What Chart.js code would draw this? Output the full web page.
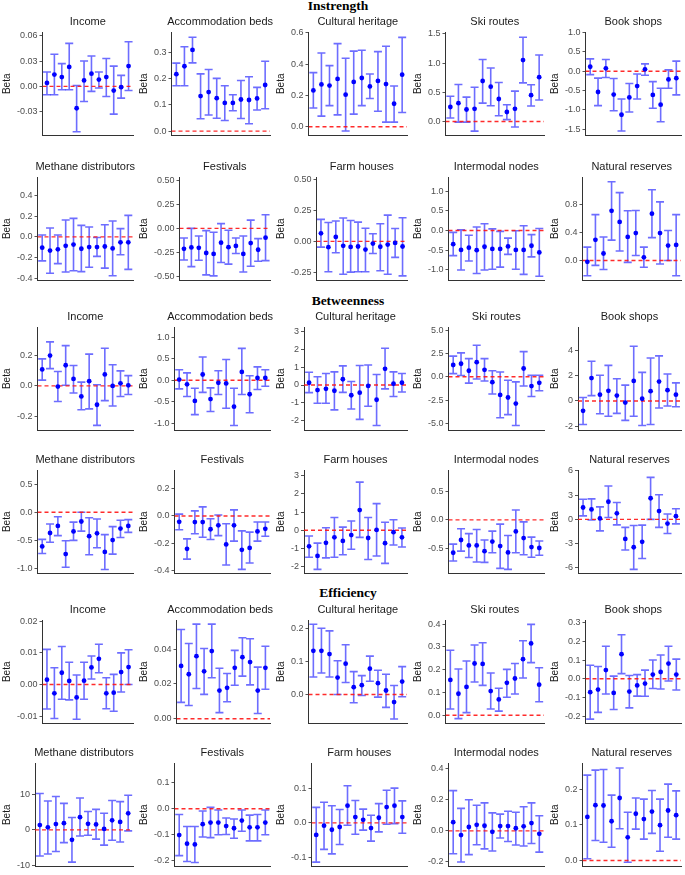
<!DOCTYPE html>
<html>
<head>
<meta charset="utf-8">
<script src="https://cdn.jsdelivr.net/npm/chart.js@4.4.0/dist/chart.umd.min.js"></script>
<style>
body { margin: 0; background: #fff; width: 685px; height: 875px; position: relative; overflow: hidden; }
.sec { position: absolute; font: bold 13.5px "Liberation Serif", "Times New Roman", serif; color: #000; transform: translate(-50%, -50%); white-space: nowrap; }
canvas { position: absolute; }
</style>
</head>
<body>
<script>
// ---- data ----
const sectionNames = ['Instrength', 'Betweenness', 'Efficiency'];
const panelTitles = ['Income', 'Accommodation beds', 'Cultural heritage', 'Ski routes', 'Book shops',
    'Methane distributors', 'Festivals', 'Farm houses', 'Intermodal nodes', 'Natural reserves'];

// Instrength
const instrengthBeta = [
    [0.004, 0.014, 0.011, 0.023, -0.026, 0.007, 0.015, 0.008, 0.011, -0.005, -0.001, 0.024],
    [0.216, 0.246, 0.308, 0.133, 0.148, 0.125, 0.107, 0.107, 0.120, 0.118, 0.124, 0.175],
    [0.232, 0.270, 0.263, 0.305, 0.205, 0.286, 0.311, 0.257, 0.292, 0.272, 0.147, 0.332],
    [0.249, 0.314, 0.206, 0.217, 0.693, 0.596, 0.385, 0.163, 0.217, 1.050, 0.450, 0.758],
    [0.115, -0.540, 0.074, -0.607, -1.130, -0.680, -0.385, 0.049, -0.615, -0.869, -0.213, -0.180],
    [-0.105, -0.133, -0.121, -0.087, -0.074, -0.115, -0.099, -0.099, -0.093, -0.112, -0.053, -0.053],
    [-0.214, -0.200, -0.204, -0.258, -0.268, -0.150, -0.197, -0.184, -0.268, -0.154, -0.224, -0.097],
    [0.065, -0.047, 0.036, -0.036, -0.045, -0.042, -0.067, -0.018, -0.044, -0.026, -0.013, -0.042],
    [-0.350, -0.496, -0.439, -0.504, -0.415, -0.472, -0.472, -0.407, -0.496, -0.496, -0.390, -0.561],
    [-0.018, 0.297, 0.101, 0.713, 0.553, 0.338, 0.393, 0.046, 0.672, 0.393, 0.215, 0.224]
];
const instrengthLower = [
    [-0.010, -0.010, -0.004, -0.004, -0.054, -0.018, -0.006, -0.002, -0.012, -0.033, -0.014, -0.005],
    [0.172, 0.172, 0.259, 0.047, 0.061, 0.049, 0.040, 0.077, 0.048, 0.028, 0.080, 0.085],
    [0.120, 0.068, 0.135, 0.076, -0.027, 0.081, 0.135, 0.180, 0.099, 0.030, 0.030, 0.091],
    [0.060, -0.010, -0.010, -0.163, 0.314, 0.270, 0.098, 0.033, -0.092, 0.660, 0.265, 0.368],
    [-0.090, -0.893, -0.164, -1.025, -1.549, -1.057, -0.721, -0.107, -0.959, -1.310, -0.443, -0.615],
    [-0.233, -0.353, -0.260, -0.341, -0.329, -0.338, -0.295, -0.189, -0.304, -0.378, -0.174, -0.316],
    [-0.331, -0.401, -0.334, -0.488, -0.498, -0.358, -0.375, -0.264, -0.458, -0.398, -0.344, -0.338],
    [-0.047, -0.247, -0.093, -0.268, -0.250, -0.247, -0.247, -0.099, -0.239, -0.268, -0.130, -0.281],
    [-0.642, -1.008, -0.780, -1.098, -1.008, -0.992, -0.935, -0.610, -0.992, -1.122, -0.675, -1.170],
    [-0.219, -0.069, -0.128, 0.293, 0.137, -0.027, 0.073, -0.096, 0.329, -0.050, 0.000, -0.219]
];
const instrengthUpper = [
    [0.017, 0.038, 0.027, 0.051, 0.001, 0.030, 0.036, 0.017, 0.033, 0.024, 0.013, 0.053],
    [0.258, 0.320, 0.356, 0.217, 0.234, 0.200, 0.172, 0.138, 0.192, 0.206, 0.166, 0.265],
    [0.345, 0.470, 0.390, 0.530, 0.437, 0.482, 0.488, 0.336, 0.479, 0.513, 0.260, 0.570],
    [0.433, 0.634, 0.417, 0.585, 1.060, 0.915, 0.666, 0.287, 0.520, 1.440, 0.628, 1.137],
    [0.320, -0.180, 0.303, -0.189, -0.720, -0.320, -0.074, 0.189, -0.270, -0.443, 0.033, 0.262],
    [0.019, 0.087, 0.019, 0.164, 0.180, 0.112, 0.096, -0.006, 0.118, 0.155, 0.081, 0.210],
    [-0.100, 0.000, -0.080, -0.023, -0.040, 0.050, -0.020, -0.100, -0.080, 0.087, -0.107, 0.144],
    [0.179, 0.153, 0.166, 0.190, 0.170, 0.156, 0.106, 0.062, 0.143, 0.213, 0.104, 0.192],
    [-0.049, 0.016, -0.122, 0.089, 0.171, 0.041, -0.024, -0.195, -0.008, 0.122, -0.106, 0.049],
    [0.192, 0.658, 0.338, 1.129, 0.974, 0.713, 0.718, 0.192, 1.015, 0.841, 0.430, 0.658]
];
const instrengthTicks = [
    ['-0.03', '0.00', '0.03', '0.06'],
    ['0.0', '0.1', '0.2', '0.3'],
    ['0.0', '0.2', '0.4', '0.6'],
    ['0.0', '0.5', '1.0', '1.5'],
    ['-1.5', '-1.0', '-0.5', '0.0', '0.5', '1.0'],
    ['-0.4', '-0.2', '0.0', '0.2', '0.4'],
    ['-0.50', '-0.25', '0.00', '0.25', '0.50'],
    ['-0.25', '0.00', '0.25', '0.50'],
    ['-1.0', '-0.5', '0.0', '0.5', '1.0'],
    ['0.0', '0.4', '0.8']
];
const instrengthLimits = [
    [-0.0585, 0.0645], [-0.017, 0.376], [-0.056, 0.604], [-0.24, 1.53], [-1.67, 1.016],
    [-0.425, 0.583], [-0.548, 0.54], [-0.319, 0.523], [-1.28, 1.366], [-0.288, 1.198]
];

// Betweenness
const betweennessBeta = [
    [0.108, 0.198, -0.004, 0.135, 0.046, -0.069, 0.031, -0.123, 0.075, 0.000, 0.017, 0.004],
    [0.015, -0.096, -0.481, 0.133, -0.437, -0.059, -0.074, -0.615, 0.193, -0.326, 0.052, 0.052],
    [0.126, -0.288, -0.216, -0.324, 0.324, -0.576, -0.432, -0.054, -0.830, 0.910, 0.072, 0.126],
    [1.263, 1.399, 0.648, 1.570, 0.750, -0.580, -1.945, -2.218, -2.867, 0.887, -0.990, -0.648],
    [-0.780, 1.816, 0.504, 0.807, 0.429, -0.126, 1.589, 0.177, 0.782, 1.538, 0.858, 0.504],
    [-0.608, -0.369, -0.244, -0.744, -0.341, -0.165, -0.426, -0.375, -0.705, -0.494, -0.290, -0.244],
    [-0.043, -0.243, -0.045, -0.045, -0.098, -0.069, -0.210, -0.069, -0.250, -0.236, -0.114, -0.095],
    [-0.883, -1.413, -0.689, -0.389, -0.583, -0.265, 1.113, -0.424, 0.018, -0.707, -0.106, -0.389],
    [-0.575, -0.352, -0.447, -0.447, -0.547, -0.380, -0.458, -0.570, -0.201, -0.318, -0.475, -0.492],
    [1.470, 1.232, 0.119, 2.185, 0.755, -2.420, -3.457, -2.780, 2.620, 1.033, -0.517, 0.397]
];
const betweennessLower = [
    [0.038, 0.113, -0.102, 0.004, -0.046, -0.156, -0.150, -0.258, -0.096, -0.131, -0.069, -0.056],
    [-0.200, -0.378, -0.800, -0.281, -0.726, -0.333, -0.652, -1.050, -0.333, -0.756, -0.215, -0.141],
    [-0.430, -1.025, -1.025, -1.400, -0.414, -1.350, -1.940, -1.200, -2.280, -0.216, -0.648, -0.396],
    [0.341, 0.137, -0.683, -0.239, -0.444, -1.843, -4.400, -4.060, -5.220, -0.990, -2.116, -1.502],
    [-1.866, 0.429, -1.009, -1.210, -0.984, -1.538, -1.210, -1.942, -1.866, -0.555, -0.404, -0.454],
    [-0.733, -0.534, -0.415, -0.977, -0.500, -0.335, -0.756, -0.631, -1.017, -0.744, -0.449, -0.358],
    [-0.102, -0.319, -0.131, -0.157, -0.174, -0.145, -0.362, -0.186, -0.395, -0.348, -0.186, -0.150],
    [-1.484, -2.155, -1.520, -1.484, -1.343, -1.042, -0.389, -1.608, -1.413, -1.820, -0.813, -0.919],
    [-0.720, -0.547, -0.659, -0.737, -0.743, -0.575, -0.849, -0.866, -0.575, -0.609, -0.654, -0.620],
    [0.437, -0.079, -1.430, 0.238, -0.675, -3.800, -6.200, -4.850, 0.000, -0.993, -1.748, -0.556]
];
const betweennessUpper = [
    [0.177, 0.288, 0.094, 0.263, 0.133, 0.025, 0.208, 0.008, 0.246, 0.138, 0.098, 0.067],
    [0.244, 0.170, -0.185, 0.540, -0.178, 0.222, 0.481, -0.185, 0.740, 0.104, 0.311, 0.244],
    [0.720, 0.468, 0.648, 0.740, 1.080, 0.198, 1.100, 1.130, 0.594, 2.070, 0.740, 0.648],
    [2.220, 2.560, 1.945, 3.380, 1.945, 0.648, 0.512, -0.375, -0.546, 2.696, 0.170, 0.170],
    [0.277, 3.150, 2.040, 2.825, 1.765, 1.261, 4.337, 2.270, 3.405, 3.580, 2.144, 1.437],
    [-0.483, -0.210, -0.080, -0.506, -0.176, 0.000, -0.097, -0.119, -0.398, -0.256, -0.142, -0.131],
    [0.014, -0.169, 0.038, 0.067, -0.021, 0.007, -0.057, 0.045, -0.110, -0.119, -0.045, -0.045],
    [-0.318, -0.707, 0.141, 0.707, 0.177, 0.512, 2.650, 0.707, 1.466, 0.442, 0.583, 0.124],
    [-0.424, -0.156, -0.240, -0.168, -0.352, -0.196, -0.073, -0.274, 0.173, -0.034, -0.302, -0.369],
    [2.500, 2.543, 1.550, 4.130, 2.100, -0.993, -0.755, -0.715, 5.200, 3.060, 0.675, 1.311]
];
const betweennessTicks = [
    ['-0.2', '0.0', '0.2'],
    ['-1.0', '-0.5', '0.0', '0.5', '1.0'],
    ['-2', '-1', '0', '1', '2', '3'],
    ['-5.0', '-2.5', '0.0', '2.5', '5.0'],
    ['-2', '0', '2', '4'],
    ['-1.0', '-0.5', '0.0', '0.5'],
    ['-0.4', '-0.2', '0.0', '0.2'],
    ['-2', '-1', '0', '1', '2', '3'],
    ['-0.5', '0.0', '0.5'],
    ['-6', '-3', '0', '3', '6']
];
const betweennessLimits = [
    [-0.292, 0.385], [-1.17, 1.237], [-2.57, 3.27], [-5.77, 5.34], [-2.35, 5.87],
    [-1.09, 0.75], [-0.426, 0.34], [-2.385, 3.32], [-0.94, 0.874], [-6.72, 6.12]
];

// Efficiency
const efficiencyBeta = [
    [0.0015, -0.0028, 0.0037, 0.0011, -0.0041, 0.0012, 0.0054, 0.0081, -0.0028, -0.0026, 0.0039, 0.0055],
    [0.0304, 0.0256, 0.0360, 0.0273, 0.0389, 0.0162, 0.0178, 0.0293, 0.0354, 0.0326, 0.0162, 0.0293],
    [0.132, 0.132, 0.122, 0.051, 0.093, 0.022, 0.028, 0.078, 0.034, 0.012, -0.023, 0.039],
    [0.155, 0.094, 0.124, 0.227, 0.225, 0.106, 0.069, 0.142, 0.161, 0.246, 0.315, 0.134],
    [-0.072, -0.058, 0.046, -0.076, 0.131, -0.069, -0.036, -0.026, 0.022, 0.036, 0.081, 0.022],
    [1.36, 0.73, 1.64, 1.90, -2.80, 3.60, 1.73, 1.55, 0.27, 2.70, 2.27, 4.70],
    [-0.1025, -0.136, -0.139, -0.060, -0.054, -0.054, -0.0675, -0.076, -0.046, -0.0725, -0.0725, -0.054],
    [-0.035, -0.008, -0.020, -0.012, 0.050, 0.017, 0.009, -0.015, 0.015, 0.046, 0.050, 0.017],
    [0.056, -0.027, 0.025, 0.039, 0.033, -0.006, 0.031, 0.031, 0.017, 0.029, 0.050, -0.019],
    [0.122, 0.155, 0.154, 0.110, 0.175, 0.065, 0.131, 0.116, 0.137, 0.099, 0.140, 0.127]
];
const efficiencyLower = [
    [-0.0078, -0.0108, -0.0047, -0.0049, -0.0110, -0.0047, 0.0017, 0.0037, -0.0077, -0.0085, -0.0024, 0.0000],
    [0.0094, 0.0076, 0.0174, 0.0140, 0.0236, 0.0035, 0.0098, 0.0193, 0.0245, 0.0195, 0.0030, 0.0170],
    [0.053, 0.065, 0.053, 0.000, 0.036, -0.025, -0.003, 0.040, -0.008, -0.039, -0.074, -0.007],
    [0.027, -0.015, 0.011, 0.146, 0.131, 0.027, 0.018, 0.079, 0.093, 0.163, 0.231, 0.059],
    [-0.216, -0.180, -0.082, -0.165, 0.027, -0.156, -0.093, -0.094, -0.052, -0.055, -0.012, -0.060],
    [-7.36, -6.80, -6.10, -3.60, -9.10, -1.70, -1.50, -2.60, -4.30, -2.90, -3.40, -0.27],
    [-0.1825, -0.205, -0.209, -0.110, -0.1125, -0.101, -0.100, -0.115, -0.0875, -0.125, -0.125, -0.101],
    [-0.114, -0.077, -0.090, -0.063, -0.007, -0.033, -0.021, -0.053, -0.026, -0.004, -0.002, -0.030],
    [-0.147, -0.200, -0.153, -0.089, -0.116, -0.130, -0.046, -0.068, -0.091, -0.097, -0.081, -0.137],
    [0.005, 0.056, 0.051, 0.037, 0.089, -0.005, 0.088, 0.060, 0.076, 0.026, 0.065, 0.060]
];
const efficiencyUpper = [
    [0.0111, 0.0053, 0.0120, 0.0070, 0.0030, 0.0070, 0.0090, 0.0127, 0.0021, 0.0032, 0.0100, 0.0110],
    [0.0513, 0.0433, 0.0544, 0.0404, 0.0544, 0.0290, 0.0260, 0.0393, 0.0466, 0.0460, 0.0297, 0.0417],
    [0.212, 0.200, 0.192, 0.102, 0.150, 0.069, 0.057, 0.116, 0.073, 0.061, 0.027, 0.084],
    [0.285, 0.203, 0.238, 0.308, 0.318, 0.185, 0.118, 0.201, 0.227, 0.327, 0.399, 0.208],
    [0.072, 0.065, 0.174, 0.014, 0.235, 0.017, 0.022, 0.046, 0.100, 0.127, 0.174, 0.105],
    [10.27, 8.18, 9.45, 7.50, 3.50, 9.00, 5.20, 5.80, 4.70, 8.30, 8.00, 9.80],
    [-0.0225, -0.069, -0.069, -0.009, 0.005, -0.005, -0.036, -0.040, -0.005, -0.025, -0.0225, -0.005],
    [0.045, 0.060, 0.050, 0.039, 0.108, 0.065, 0.040, 0.022, 0.056, 0.095, 0.101, 0.064],
    [0.259, 0.145, 0.200, 0.165, 0.180, 0.116, 0.108, 0.126, 0.120, 0.155, 0.180, 0.097],
    [0.239, 0.253, 0.255, 0.183, 0.259, 0.135, 0.175, 0.172, 0.196, 0.172, 0.214, 0.195]
];
const efficiencyTicks = [
    ['-0.01', '0.00', '0.01', '0.02'],
    ['0.00', '0.02', '0.04'],
    ['0.0', '0.1', '0.2'],
    ['0.0', '0.1', '0.2', '0.3', '0.4'],
    ['-0.2', '-0.1', '0.0', '0.1', '0.2', '0.3'],
    ['-10', '0', '10'],
    ['-0.2', '-0.1', '0.0', '0.1'],
    ['-0.1', '0.0', '0.1'],
    ['-0.2', '0.0', '0.2', '0.4'],
    ['0.0', '0.1', '0.2']
];
const efficiencyLimits = [
    [-0.0124, 0.0204], [-0.0028, 0.0568], [-0.088, 0.225], [-0.037, 0.418], [-0.24, 0.314],
    [-10.36, 18.9], [-0.225, 0.1775], [-0.127, 0.174], [-0.23, 0.437], [-0.017, 0.273]
];

// ---- layout ----
const sectionData = [
    [instrengthBeta, instrengthLower, instrengthUpper, instrengthTicks, instrengthLimits],
    [betweennessBeta, betweennessLower, betweennessUpper, betweennessTicks, betweennessLimits],
    [efficiencyBeta, efficiencyLower, efficiencyUpper, efficiencyTicks, efficiencyLimits]
];
const sectionPos = [[338, 6], [348, 301], [348, 593]];
const plotTops = [32, 177, 327, 470, 620, 763];
const panelW = 137, plotH = 108, headH = 19;
const fontFamily = '"Liberation Sans", Arial, sans-serif';

Chart.defaults.font.family = fontFamily;
Chart.defaults.animation = false;

sectionNames.forEach((name, s) => {
    const div = document.createElement('div');
    div.className = 'sec';
    div.textContent = name;
    div.style.left = sectionPos[s][0] + 'px';
    div.style.top = sectionPos[s][1] + 'px';
    document.body.appendChild(div);
});

// whiskers with caps, drawn under the points
function errorBars(lower, upper) {
    return {
        id: 'errorBars',
        beforeDatasetsDraw(chart) {
            const { ctx, scales: { x, y } } = chart;
            ctx.save();
            ctx.strokeStyle = 'rgba(30, 30, 255, 0.65)';
            ctx.lineWidth = 1.6;
            lower.forEach((lo, i) => {
                const px = x.getPixelForValue(i + 1);
                const y0 = y.getPixelForValue(lo);
                const y1 = y.getPixelForValue(upper[i]);
                ctx.beginPath();
                ctx.moveTo(px, y0); ctx.lineTo(px, y1);
                ctx.moveTo(px - 4, y0); ctx.lineTo(px + 4, y0);
                ctx.moveTo(px - 4, y1); ctx.lineTo(px + 4, y1);
                ctx.stroke();
            });
            ctx.restore();
        }
    };
}

// panel title centred over the plot area (ggplot style), kept inside the canvas
function panelTitle(text) {
    return {
        id: 'panelTitle',
        afterDraw(chart) {
            const { ctx, chartArea, width } = chart;
            ctx.save();
            ctx.font = '11px ' + fontFamily;
            ctx.fillStyle = '#1a1a1a';
            ctx.textAlign = 'center';
            ctx.textBaseline = 'middle';
            const half = ctx.measureText(text).width / 2;
            const cx = Math.min((chartArea.left + chartArea.right) / 2, width - half - 1);
            ctx.fillText(text, cx, chartArea.top - 10.5);
            ctx.restore();
        }
    };
}

sectionData.forEach(([betas, lowers, uppers, ticks, limits], s) => {
    betas.forEach((beta, p) => {
        const row = s * 2 + Math.floor(p / 5);
        const col = p % 5;
        const canvas = document.createElement('canvas');
        canvas.width = panelW;
        canvas.height = headH + plotH + 3;
        canvas.style.left = (col * panelW) + 'px';
        canvas.style.top = (plotTops[row] - headH) + 'px';
        document.body.appendChild(canvas);

        const tickLabels = ticks[p];
        // eslint-disable-next-line
        const chart = new Chart(canvas, {
            type: 'scatter',
            data: {
                datasets: [{
                    data: beta.map((v, i) => ({ x: i + 1, y: v })),
                    backgroundColor: '#0000ff',
                    borderWidth: 0,
                    pointRadius: 2.4,
                    order: 0
                }, {
                    data: [{ x: 0.4, y: 0 }, { x: 12.6, y: 0 }],
                    showLine: true,
                    borderColor: 'rgba(255, 20, 20, 0.9)',
                    borderWidth: 1.4,
                    borderDash: [4, 3],
                    pointRadius: 0,
                    order: 1
                }]
            },
            options: {
                responsive: false,
                events: [],
                layout: { padding: { top: headH, left: 1, right: 4, bottom: 2 } },
                plugins: {
                    legend: { display: false },
                    tooltip: { enabled: false },
                    title: { display: false }
                },
                scales: {
                    x: {
                        type: 'linear',
                        min: 0.4,
                        max: 12.6,
                        ticks: { display: false },
                        grid: { display: false, drawTicks: false },
                        border: { color: '#333', width: 1 }
                    },
                    y: {
                        min: limits[p][0],
                        max: limits[p][1],
                        afterBuildTicks: axis => {
                            axis.ticks = tickLabels.map(t => ({ value: parseFloat(t) }));
                        },
                        ticks: {
                            autoSkip: false,
                            color: '#4d4d4d',
                            font: { size: 9 },
                            padding: 2,
                            callback: (v, i) => tickLabels[i]
                        },
                        grid: { drawOnChartArea: false, drawTicks: true, tickLength: 3, color: '#555' },
                        border: { color: '#333', width: 1 },
                        title: {
                            display: true,
                            text: 'Beta',
                            color: '#1a1a1a',
                            font: { size: 10 },
                            padding: { top: 0, bottom: 2 }
                        }
                    }
                }
            },
            plugins: [errorBars(lowers[p], uppers[p]), panelTitle(panelTitles[p])]
        });
    });
});
</script>
</body>
</html>
